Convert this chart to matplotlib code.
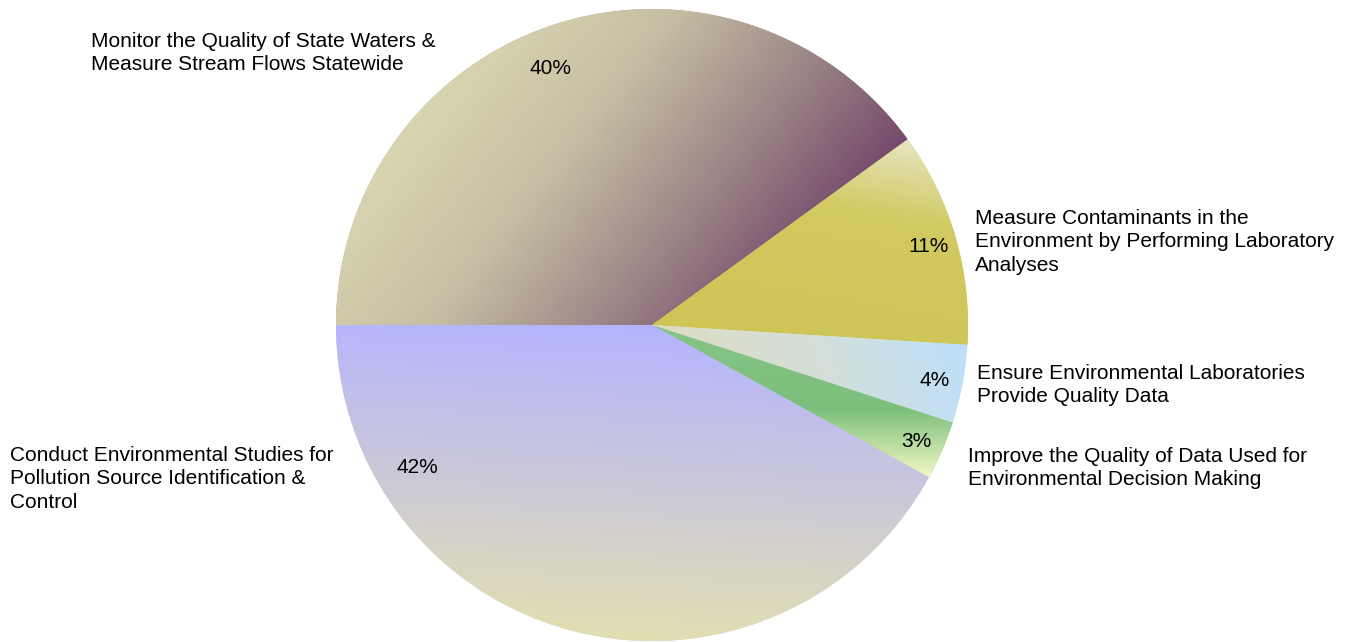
import numpy as np
import matplotlib
matplotlib.use("Agg")
import matplotlib.pyplot as plt
from matplotlib.colors import LinearSegmentedColormap

plt.rcParams['font.family'] = ['Liberation Sans', 'DejaVu Sans']

# program areas and their share of the budget (clockwise from 9 o'clock)
categorias = [
    "Monitor the Quality of State Waters &\nMeasure Stream Flows Statewide",
    "Measure Contaminants in the\nEnvironment by Performing Laboratory\nAnalyses",
    "Ensure Environmental Laboratories\nProvide Quality Data",
    "Improve the Quality of Data Used for\nEnvironmental Decision Making",
    "Conduct Environmental Studies for\nPollution Source Identification &\nControl",
]
porcentajes = [40, 11, 4, 3, 42]

# gradient per slice: direction (degrees) and colour stops
gradientes = [
    (-38, [(0.0, "#d9d5b0"), (0.35, "#c6bea4"), (0.7, "#9a8485"), (1.0, "#76496c")]),
    (-100, [(0.0, "#e6e4c0"), (0.35, "#d2ca62"), (1.0, "#cdc554")]),
    (200, [(0.0, "#bde0fb"), (0.5, "#d4dfd8"), (1.0, "#dedcc2")]),
    (-90, [(0.0, "#86c486"), (0.55, "#7cbf7c"), (1.0, "#f2f8c2")]),
    (-93, [(0.0, "#b4b4ff"), (0.5, "#cbc9d8"), (1.0, "#e3e0b0")]),
]

# where each label block sits (figure pixels, left edge / vertical centre)
pos_etiquetas = [(91, 53), (975, 242), (977, 385), (968, 468), (10, 479)]

# percentage label placement (angle, distance from centre); None -> slice middle
pos_pct = [(111.5, 0.88), None, None, None, (-149, 0.865)]

W, H = 1357, 642
cx, cy, r = 652, 325, 316

fig = plt.figure(figsize=(W / 100, H / 100), dpi=100)
ax = fig.add_axes([(cx - r) / W, (H - cy - r) / H, 2 * r / W, 2 * r / H])
ax.axis('off')

wedges, _ = ax.pie(porcentajes, startangle=180, counterclock=False, radius=1,
                   wedgeprops=dict(linewidth=0))


def rellenar_gradiente(wedge, angulo, paradas):
    v = wedge.get_path().vertices
    d = np.array([np.cos(np.radians(angulo)), np.sin(np.radians(angulo))])
    proy = v @ d
    lo, hi = proy.min(), proy.max()
    xs = np.linspace(-1.02, 1.02, 500)
    X, Y = np.meshgrid(xs, xs)
    t = np.clip((X * d[0] + Y * d[1] - lo) / (hi - lo), 0, 1)
    cmap = LinearSegmentedColormap.from_list('g', paradas)
    wedge.set_facecolor(cmap(0.5))
    im = ax.imshow(t, cmap=cmap, vmin=0, vmax=1, extent=(-1.02, 1.02, -1.02, 1.02),
                   origin='lower', interpolation='bilinear', zorder=2)
    im.set_clip_path(wedge)


for w, (ang, paradas) in zip(wedges, gradientes):
    rellenar_gradiente(w, ang, paradas)

ax.set_xlim(-1, 1)
ax.set_ylim(-1, 1)
ax.set_aspect('equal')

# percentage labels inside the slices
for w, p, pos in zip(wedges, porcentajes, pos_pct):
    if pos is None:
        medio, dist = (w.theta1 + w.theta2) / 2, 0.91
    else:
        medio, dist = pos
    x = dist * np.cos(np.radians(medio))
    y = dist * np.sin(np.radians(medio))
    ax.text(x, y, f"{p}%", ha='center', va='center_baseline', fontsize=15, zorder=5)

for texto, (px, py) in zip(categorias, pos_etiquetas):
    fig.text(px / W, 1 - py / H, texto, ha='left', va='center', fontsize=15,
             linespacing=1.28)

fig.savefig("out.png", dpi=100)
